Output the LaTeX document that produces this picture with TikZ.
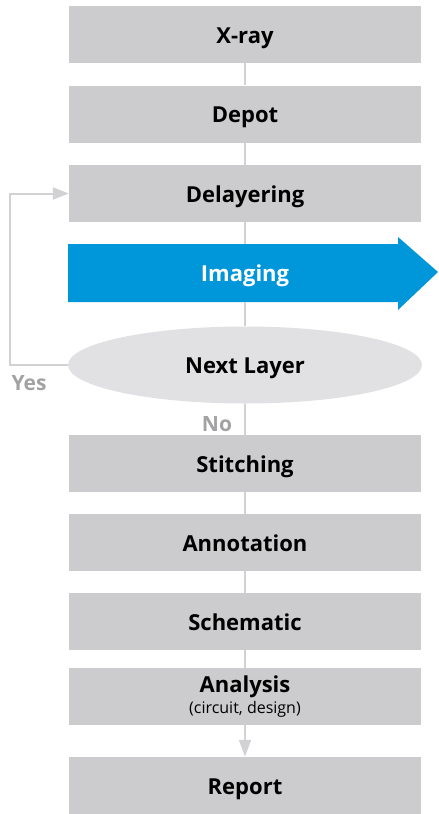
\documentclass[tikz,border=0pt]{standalone}
\usepackage{fontspec}
\setmainfont{Open Sans}
\usetikzlibrary{arrows.meta,shapes.geometric}
\definecolor{boxgray}{HTML}{CCCCCE}
\definecolor{ovalgray}{HTML}{E1E1E3}
\definecolor{linegray}{HTML}{D2D2D4}
\definecolor{labelgray}{HTML}{A2A2A4}
\definecolor{flowblue}{HTML}{0096DA}
\tikzset{
  stepfont/.style={font=\fontsize{22}{24}\selectfont\bfseries},
  % fixed text box so that capitals sit centred in each shape
  captext/.style={text height=17.5pt, text depth=0pt},
  stepbox/.style={rectangle, fill=boxgray, minimum width=352pt, minimum height=57pt,
    inner sep=0pt, stepfont, text=black, align=center},
  link/.style={draw=linegray, line width=2pt},
  decision/.style={ellipse, fill=ovalgray, minimum width=354pt, minimum height=77pt,
    inner sep=0pt, stepfont, captext, text=black},
  answer/.style={font=\fontsize{21}{23}\selectfont\bfseries, text=labelgray,
    inner sep=0pt, text height=15pt, text depth=0pt},
}
\begin{document}
\begin{tikzpicture}[x=1pt, y=-1pt]
  \useasboundingbox (0,0) rectangle (439,814);

  \node[stepbox, captext] (xray) at (245,34.5) {X-ray};
  \node[stepbox, captext] (depot) at (245,114) {Depot};
  \node[stepbox, captext] (delayering) at (245,193.5) {Delayering};
  % blue process arrow
  \fill[flowblue] (68,244) -- (398,244) -- (398,237) -- (438,272) -- (398,310)
    -- (398,302) -- (68,302) -- cycle;
  \node[rectangle, minimum width=352pt, minimum height=58pt, inner sep=0pt,
    stepfont, text height=16.5pt, text depth=0pt, text=white] (imaging) at (245,273) {Imaging};
  \node[decision] (next) at (245,365) {Next Layer};
  \node[stepbox, captext] (stitching) at (245,463.5) {Stitching};
  \node[stepbox, captext] (annotation) at (245,542.5) {Annotation};
  \node[stepbox, captext] (schematic) at (245,621.5) {Schematic};
  \node[stepbox] (analysis) at (245,696.5) {Analysis\\[-3pt]
    {\fontsize{16}{18}\selectfont\mdseries (circuit, design)}};
  \node[stepbox, captext] (report) at (245,785.5) {Report};

  \draw[link] (xray) -- (depot);
  \draw[link] (depot) -- (delayering);
  \draw[link] (delayering) -- (imaging);
  \draw[link] (imaging) -- (next);
  \draw[link] (next) -- (stitching);
  \draw[link] (stitching) -- (annotation);
  \draw[link] (annotation) -- (schematic);
  \draw[link] (schematic) -- (analysis);
  \draw[link, -{Triangle[width=12pt,length=17pt]}] (analysis) -- (report);

  % loop back for the next layer
  \coordinate (looptop) at (10,193.5);
  \draw[link, -{Triangle[width=12pt,length=16pt]}] (next.west) -| (looptop) -- (delayering.west);

  \node[answer] (yes) at (29,382.5) {Yes};
  \node[answer] (no) at (217,423.5) {No};
\end{tikzpicture}
\end{document}
